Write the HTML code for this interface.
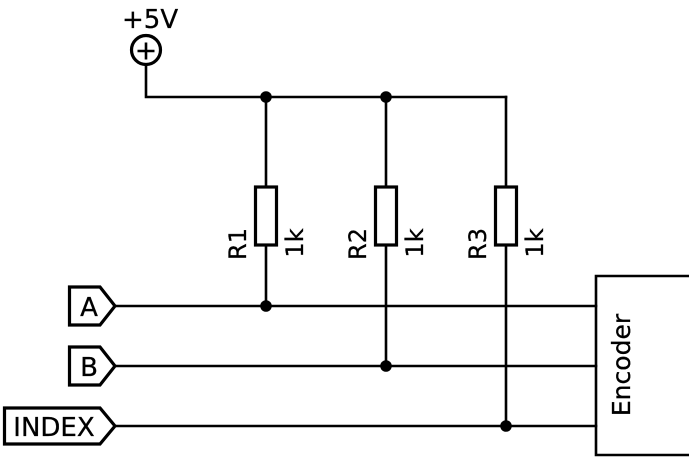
<!DOCTYPE html>
<html>
<head>
<meta charset="utf-8">
<style>
html,body{margin:0;padding:0;background:#fff;}
svg{display:block;}
text{font-family:"DejaVu Sans","Liberation Sans",sans-serif;fill:#000;stroke:#000;stroke-width:0.3;}
</style>
</head>
<body>
<svg width="689" height="459" viewBox="0 0 689 459" xmlns="http://www.w3.org/2000/svg">
  <g stroke="#000" stroke-width="2.6" fill="none" stroke-linecap="square">
    <polyline points="146,64 146,97 506,97"/>
    <line x1="266" y1="97" x2="266" y2="306"/>
    <line x1="386" y1="97" x2="386" y2="366"/>
    <line x1="506" y1="97" x2="506" y2="426"/>
    <line x1="116" y1="306" x2="596" y2="306"/>
    <line x1="116" y1="366" x2="596" y2="366"/>
    <line x1="116" y1="426" x2="596" y2="426"/>
    <polyline points="690,276 596,276 596,455 690,455"/>
  </g>
  <circle cx="146" cy="50" r="14.5" fill="#fff" stroke="#000" stroke-width="3.2"/>
  <g stroke="#000" stroke-width="2.6">
    <line x1="137.5" y1="51" x2="154.5" y2="51"/>
    <line x1="146" y1="42.5" x2="146" y2="59.5"/>
  </g>
  <g fill="#fff" stroke="#000" stroke-width="3.2">
    <rect x="255.5" y="187" width="21" height="58"/>
    <rect x="375.5" y="187" width="21" height="58"/>
    <rect x="495.5" y="187" width="21" height="58"/>
  </g>
  <g fill="#000">
    <circle cx="266" cy="97" r="5.8"/>
    <circle cx="386" cy="97" r="5.8"/>
    <circle cx="266" cy="306" r="5.8"/>
    <circle cx="386" cy="366" r="5.8"/>
    <circle cx="506" cy="426" r="5.8"/>
  </g>
  <g fill="#fff" stroke="#000" stroke-width="3.2" stroke-linejoin="miter">
    <polygon points="69.5,287 100,287 115,306 100,325 69.5,325"/>
    <polygon points="69.5,347 100,347 115,366 100,385 69.5,385"/>
    <polygon points="4.5,408 100,408 115,426 100,444 4.5,444"/>
  </g>
  <text x="89" y="316" font-size="26" text-anchor="middle">A</text>
  <text x="89" y="376" font-size="26" text-anchor="middle">B</text>
  <text x="54" y="436" font-size="26" text-anchor="middle">INDEX</text>
  <text x="122" y="28" font-size="26">+5V</text>
  <text transform="translate(246,244) rotate(-90)" font-size="24" text-anchor="middle">R1</text>
  <text transform="translate(303,243) rotate(-90)" font-size="24" text-anchor="middle">1k</text>
  <text transform="translate(366,244) rotate(-90)" font-size="24" text-anchor="middle">R2</text>
  <text transform="translate(423,243) rotate(-90)" font-size="24" text-anchor="middle">1k</text>
  <text transform="translate(486,244) rotate(-90)" font-size="24" text-anchor="middle">R3</text>
  <text transform="translate(543,243) rotate(-90)" font-size="24" text-anchor="middle">1k</text>
  <text transform="translate(630,365) rotate(-90)" font-size="25" text-anchor="middle">Encoder</text>
</svg>
</body>
</html>
